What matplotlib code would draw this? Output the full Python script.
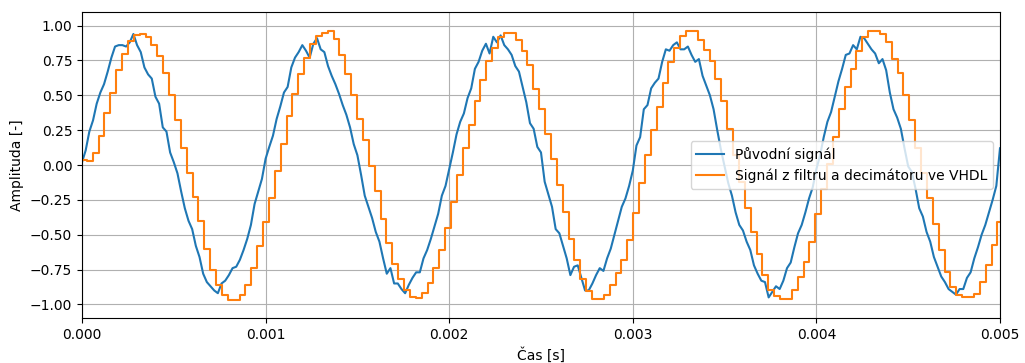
import numpy as np
import matplotlib
matplotlib.use("Agg")
import matplotlib.pyplot as plt

blue_dt = 2e-5
blue_vals = [
    0.02, 0.105, 0.24, 0.32, 0.44, 0.52, 0.58, 0.67, 0.77, 0.85,
    0.86, 0.86, 0.85, 0.88, 0.94, 0.86, 0.81, 0.70, 0.65, 0.62,
    0.49, 0.44, 0.27, 0.24, 0.09, 0.02, -0.06, -0.19, -0.31, -0.40,
    -0.46, -0.58, -0.66, -0.78, -0.84, -0.87, -0.90, -0.92, -0.85, -0.83,
    -0.79, -0.74, -0.73, -0.68, -0.61, -0.53, -0.43, -0.28, -0.19, -0.10,
    0.045, 0.13, 0.21, 0.33, 0.42, 0.52, 0.56, 0.70, 0.77, 0.81,
    0.86, 0.82, 0.77, 0.87, 0.91, 0.83, 0.81, 0.71, 0.64, 0.58,
    0.51, 0.43, 0.36, 0.27, 0.15, 0.07, -0.07, -0.22, -0.30, -0.38,
    -0.48, -0.55, -0.67, -0.78, -0.74, -0.85, -0.85, -0.89, -0.92, -0.86,
    -0.81, -0.77, -0.77, -0.67, -0.61, -0.53, -0.44, -0.35, -0.22, -0.15,
    -0.03, 0.09, 0.22, 0.31, 0.37, 0.48, 0.55, 0.69, 0.74, 0.82,
    0.87, 0.80, 0.92, 0.88, 0.93, 0.86, 0.83, 0.79, 0.71, 0.67,
    0.56, 0.45, 0.30, 0.26, 0.13, 0.09, -0.12, -0.21, -0.30, -0.46,
    -0.49, -0.58, -0.67, -0.79, -0.73, -0.72, -0.81, -0.90, -0.90, -0.85,
    -0.79, -0.74, -0.76, -0.67, -0.60, -0.50, -0.40, -0.30, -0.24, -0.15,
    -0.04, 0.14, 0.20, 0.40, 0.43, 0.55, 0.59, 0.62, 0.74, 0.83,
    0.82, 0.86, 0.88, 0.83, 0.83, 0.85, 0.79, 0.74, 0.76, 0.64,
    0.57, 0.50, 0.40, 0.25, 0.11, -0.01, -0.13, -0.22, -0.34, -0.43,
    -0.47, -0.55, -0.61, -0.72, -0.78, -0.83, -0.84, -0.95, -0.91, -0.87,
    -0.89, -0.83, -0.74, -0.70, -0.59, -0.49, -0.43, -0.34, -0.24, -0.16,
    -0.03, 0.07, 0.20, 0.31, 0.38, 0.49, 0.60, 0.69, 0.79, 0.80,
    0.86, 0.83, 0.92, 0.91, 0.87, 0.83, 0.80, 0.73, 0.76, 0.68,
    0.52, 0.40, 0.34, 0.26, 0.12, -0.01, -0.05, -0.17, -0.31, -0.37,
    -0.48, -0.55, -0.66, -0.73, -0.80, -0.84, -0.89, -0.91, -0.93, -0.89,
    -0.89, -0.81, -0.77, -0.67, -0.59, -0.50, -0.43, -0.34, -0.25, -0.15,
    0.12,
]

# Filter + decimator output (step signal), one value per output sample
orange_t0 = -6e-6
orange_dt = 3.2e-5
orange_vals = [
    0.033, 0.026, 0.088, 0.21, 0.37, 0.52, 0.68, 0.80, 0.89, 0.93,
    0.94, 0.92, 0.86, 0.78, 0.66, 0.50, 0.32, 0.12, -0.06, -0.23,
    -0.40, -0.60, -0.755, -0.86, -0.93, -0.97, -0.97, -0.93, -0.86, -0.74,
    -0.58, -0.41, -0.24, -0.045, 0.15, 0.35, 0.51, 0.655, 0.77, 0.87,
    0.925, 0.95, 0.96, 0.905, 0.79, 0.655, 0.50, 0.33, 0.18, -0.01,
    -0.19, -0.385, -0.56, -0.71, -0.815, -0.90, -0.946, -0.953, -0.92, -0.85,
    -0.74, -0.61, -0.45, -0.265, -0.074, 0.12, 0.29, 0.456, 0.607, 0.743,
    0.84, 0.92, 0.946, 0.946, 0.90, 0.815, 0.714, 0.547, 0.40, 0.22,
    0.045, -0.146, -0.337, -0.528, -0.683, -0.815, -0.906, -0.958, -0.958, -0.934,
    -0.863, -0.774, -0.683, -0.54, -0.342, -0.127, 0.074, 0.249, 0.416, 0.588,
    0.738, 0.839, 0.922, 0.96, 0.96, 0.90, 0.827, 0.743, 0.619, 0.456,
    0.26, 0.07, -0.12, -0.31, -0.48, -0.636, -0.79, -0.90, -0.94, -0.958,
    -0.958, -0.90, -0.80, -0.695, -0.55, -0.35, -0.17, 0.01, 0.20, 0.40,
    0.56, 0.69, 0.815, 0.92, 0.965, 0.965, 0.94, 0.88, 0.76, 0.66,
    0.50, 0.32, 0.12, -0.06, -0.24, -0.42, -0.61, -0.77, -0.875, -0.934,
    -0.946, -0.946, -0.922, -0.84, -0.72, -0.576, -0.41,
]

labels = ["Původní signál", "Signál z filtru a decimátoru ve VHDL"]
xlabel = "Čas [s]"
ylabel = "Amplituda [-]"

blue_t = np.arange(len(blue_vals)) * blue_dt
o_edges = orange_t0 + np.arange(len(orange_vals) + 1) * orange_dt
o_x = o_edges
o_y = np.append(orange_vals, orange_vals[-1])

fig = plt.figure(figsize=(10.25, 3.63), dpi=100)
ax = fig.add_axes([0.08, 0.1231, 0.8956, 0.8447])
ax.plot(blue_t, blue_vals, color="#1f77b4", lw=1.5, label=labels[0])
ax.plot(o_x, o_y, color="#ff7f0e", lw=1.5, drawstyle="steps-post", label=labels[1])
ax.set_xlim(0, 0.005)
ax.set_ylim(-1.1, 1.1)
ax.set_yticks([-1.0, -0.75, -0.5, -0.25, 0.0, 0.25, 0.5, 0.75, 1.0])
ax.grid(True)
ax.set_xlabel(xlabel)
ax.set_ylabel(ylabel)
ax.legend(loc="center right", fontsize=10)
fig.savefig("out.png", dpi=100)
